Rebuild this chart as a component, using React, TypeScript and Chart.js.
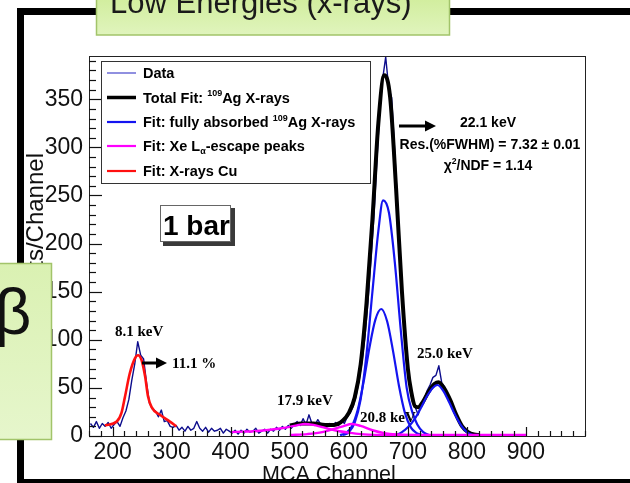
import React, { useEffect, useRef } from 'react';
import { Chart, registerables } from 'chart.js';

Chart.register(...registerables);

// ---------- data ----------
// Data histogram: 5-channel bins starting at channel 160
const DATA_START = 160;
const DATA_BIN = 5;
const dataCounts = [
  13, 9, 15, 8, 13, 10, 14, 8, 12, 15, 10, 19, 26, 38, 58, 75, 98, 84, 80, 55,
  34, 28, 26, 20, 27, 15, 16, 10, 9, 11, 6, 9, 5, 10, 6, 8, 15, 8, 5, 9,
  4, 8, 5, 6, 8, 3, 7, 5, 3, 6, 2, 6, 3, 7, 4, 5, 8, 3, 5, 7,
  3, 7, 5, 9, 6, 10, 7, 11, 8, 12, 15, 11, 18, 12, 22, 13, 11, 17, 12, 10,
  9, 13, 10, 14, 11, 16, 13, 20, 24, 31, 42, 58, 78, 104, 140, 182, 228, 285, 340, 372,
  394, 362, 352, 298, 240, 178, 128, 88, 58, 36, 30, 22, 34, 38, 47, 53, 61, 63, 73, 55,
  51, 43, 35, 27, 21, 14, 9, 6, 4, 3, 2, 1, 1, 0, 1,
];

const totalFitChannels = [500, 520, 540, 560, 575, 590, 600, 610, 620, 630, 640, 650, 660, 670, 680, 690, 700, 706, 712, 718, 725, 735, 745, 752, 762, 772, 782, 792, 802, 812, 822];
const totalFitCounts = [11, 13, 13, 11.5, 11.5, 16, 24, 40, 74, 138, 225, 325, 375, 352, 258, 150, 70, 45, 31, 30, 35, 46, 54, 56, 49, 37, 22, 10, 4, 1.5, 1];

const agKa1Channels = [590, 600, 610, 620, 630, 640, 650, 658, 668, 678, 688, 698, 708, 716, 726, 736, 746];
const agKa1Counts = [1, 4, 14, 38, 85, 150, 213, 245, 232, 180, 110, 50, 24, 12, 4, 1, 0];

const agKa2Channels = [585, 595, 605, 615, 625, 635, 645, 655, 665, 675, 685, 695, 705, 715, 725, 735];
const agKa2Counts = [1, 3, 10, 27, 56, 92, 121, 132, 119, 88, 52, 24, 9, 3, 1, 0];

const agKbChannels = [680, 690, 700, 712, 722, 732, 742, 750, 760, 770, 780, 790, 800, 810, 820];
const agKbCounts = [1, 4, 9, 18, 29, 41, 50, 53, 47, 35, 22, 11, 4, 1, 0];

const escape1Channels = [400, 420, 440, 460, 480, 500, 515, 525, 540, 560, 580, 600, 620, 650, 700, 800, 900];
const escape1Counts = [4, 4.5, 5, 6, 7.5, 9.5, 11.5, 12.5, 11.5, 8.5, 5.5, 3.5, 2, 1.2, 1, 1, 1];

const escape2Channels = [500, 530, 555, 575, 590, 605, 620, 640, 660, 680, 700, 750];
const escape2Counts = [1, 2, 4, 7.5, 10, 12.5, 10.5, 6, 3, 1.5, 1, 0.5];

const cuChannels = [187, 207, 215, 221, 229, 238, 243, 249, 255, 260, 266, 280, 297, 308];
const cuCounts = [11, 15, 24, 41, 65, 81, 84, 79, 62, 41, 30, 22, 15, 10];

const xTickValues = [200, 300, 400, 500, 600, 700, 800, 900];
const yTickValues = [0, 50, 100, 150, 200, 250, 300, 350];

const legendEntries = [
  { color: '#6b6bd6', width: 1.5, segs: [['Data', 'n']] },
  { color: '#000000', width: 3.5, segs: [['Total Fit: ', 'n'], ['109', 'sup'], ['Ag X-rays', 'n']] },
  { color: '#1414f0', width: 2.2, segs: [['Fit: fully absorbed ', 'n'], ['109', 'sup'], ['Ag X-rays', 'n']] },
  { color: '#ff00ff', width: 2.2, segs: [['Fit: Xe L', 'n'], ['\u03b1', 'sub'], ['-escape peaks', 'n']] },
  { color: '#ff1010', width: 2.2, segs: [['Fit: X-rays Cu', 'n']] },
];

const SANS = "'Liberation Sans', Arial, Helvetica, sans-serif";
const SERIF = "'Liberation Serif', 'Times New Roman', serif";

const pairs = (xs: number[], ys: number[]) => xs.map((x, i) => ({ x, y: ys[i] }));

function drawRich(
  ctx: CanvasRenderingContext2D,
  segs: string[][],
  x: number,
  y: number,
  size: number,
  family: string,
  weight: string,
  align: 'left' | 'center'
) {
  let total = 0;
  const parts = segs.map(([t, mode]) => {
    const fs = mode === 'n' ? size : size * 0.62;
    ctx.font = `${weight} ${fs}px ${family}`;
    const w = ctx.measureText(t).width;
    total += w;
    return { t, mode, fs, w };
  });
  let cx = align === 'center' ? x - total / 2 : x;
  ctx.textAlign = 'left';
  ctx.textBaseline = 'alphabetic';
  for (const p of parts) {
    ctx.font = `${weight} ${p.fs}px ${family}`;
    const dy = p.mode === 'sup' ? -size * 0.42 : p.mode === 'sub' ? size * 0.22 : 0;
    ctx.fillText(p.t, cx, y + dy);
    cx += p.w;
  }
}

function arrow(ctx: CanvasRenderingContext2D, x1: number, y: number, x2: number) {
  ctx.save();
  ctx.strokeStyle = '#000';
  ctx.fillStyle = '#000';
  ctx.lineWidth = 3;
  ctx.beginPath();
  ctx.moveTo(x1, y);
  ctx.lineTo(x2 - 8, y);
  ctx.stroke();
  ctx.beginPath();
  ctx.moveTo(x2, y);
  ctx.lineTo(x2 - 11, y - 5.5);
  ctx.lineTo(x2 - 11, y + 5.5);
  ctx.closePath();
  ctx.fill();
  ctx.restore();
}

const rootPlugin = {
  id: 'rootStyle',
  beforeDraw(chart: any) {
    const ctx = chart.ctx as CanvasRenderingContext2D;
    ctx.save();
    ctx.fillStyle = '#ffffff';
    ctx.fillRect(0, 0, chart.width, chart.height);
    ctx.restore();
  },
  afterDatasetsDraw(chart: any) {
    const ctx = chart.ctx as CanvasRenderingContext2D;
    const { left, right, top, bottom } = chart.chartArea;
    const xs = chart.scales.x;
    const ys = chart.scales.y;
    ctx.save();
    ctx.strokeStyle = '#222';
    ctx.lineWidth = 1;
    ctx.strokeRect(Math.round(left) + 0.5, Math.round(top) + 0.5, Math.round(right - left), Math.round(bottom - top));
    ctx.strokeStyle = '#111';
    ctx.lineWidth = 1.2;
    for (let v = 0; v <= ys.max; v += 10) {
      const py = Math.round(ys.getPixelForValue(v)) + 0.5;
      const len = yTickValues.includes(v) ? 13 : 7;
      ctx.beginPath();
      ctx.moveTo(left, py);
      ctx.lineTo(left + len, py);
      ctx.stroke();
    }
    for (let v = 160; v <= xs.max; v += 20) {
      const px = Math.round(xs.getPixelForValue(v)) + 0.5;
      const len = xTickValues.includes(v) ? 9 : 5;
      ctx.beginPath();
      ctx.moveTo(px, bottom);
      ctx.lineTo(px, bottom - len);
      ctx.stroke();
    }
    ctx.restore();
  },
  afterDraw(chart: any) {
    const ctx = chart.ctx as CanvasRenderingContext2D;
    ctx.save();
    ctx.fillStyle = '#000';

    // legend
    ctx.fillStyle = '#fff';
    ctx.fillRect(101, 61, 270, 122);
    ctx.strokeStyle = '#333';
    ctx.lineWidth = 1;
    ctx.strokeRect(101.5, 61.5, 269, 122);
    const rowY = [73, 97.5, 122, 146, 171];
    legendEntries.forEach((e, i) => {
      ctx.strokeStyle = e.color;
      ctx.lineWidth = e.width;
      ctx.beginPath();
      ctx.moveTo(107, rowY[i]);
      ctx.lineTo(136, rowY[i]);
      ctx.stroke();
      ctx.fillStyle = '#000';
      drawRich(ctx, e.segs, 143, rowY[i] + 5, 14.5, SANS, 'bold', 'left');
    });

    // "1 bar" box
    ctx.fillStyle = '#3a3a3a';
    ctx.fillRect(163, 208, 72, 38);
    ctx.fillStyle = '#fff';
    ctx.fillRect(160, 205, 71, 37);
    ctx.strokeStyle = '#666';
    ctx.lineWidth = 1;
    ctx.strokeRect(160.5, 205.5, 70, 36);
    ctx.fillStyle = '#000';
    ctx.font = `bold 28px ${SANS}`;
    ctx.textAlign = 'left';
    ctx.textBaseline = 'alphabetic';
    ctx.fillText('1 bar', 163, 235);

    // peak annotations
    ctx.font = `bold 15px ${SERIF}`;
    ctx.fillText('8.1 keV', 115, 336);
    ctx.fillText('11.1 %', 172, 368);
    ctx.fillText('17.9 keV', 277, 405);
    ctx.fillText('20.8 keV', 360, 422);
    ctx.fillText('25.0 keV', 417, 358);
    arrow(ctx, 142, 363, 167);
    arrow(ctx, 399, 126, 436);

    drawRich(ctx, [['22.1 keV', 'n']], 488, 127, 14, SANS, 'bold', 'center');
    drawRich(ctx, [['Res.(%FWHM) = 7.32 \u00b1 0.01', 'n']], 490, 149, 14, SANS, 'bold', 'center');
    drawRich(ctx, [['\u03c7', 'n'], ['2', 'sup'], ['/NDF = 1.14', 'n']], 488, 170, 14, SANS, 'bold', 'center');

    // axis titles
    ctx.fillStyle = '#111';
    ctx.font = `21.5px ${SANS}`;
    ctx.textAlign = 'left';
    ctx.fillText('MCA Channel', 262, 481);
    ctx.save();
    ctx.translate(43, 153);
    ctx.rotate(-Math.PI / 2);
    ctx.font = `24px ${SANS}`;
    ctx.textAlign = 'right';
    ctx.fillText('Counts/Channel', 0, 0);
    ctx.restore();

    // slide frame
    ctx.fillStyle = '#000';
    ctx.fillRect(17, 8, 80, 7);
    ctx.fillRect(449, 8, 181, 7);
    ctx.fillRect(17, 8, 7, 475);
    ctx.fillRect(17, 479, 613, 4);

    // title box
    const g1 = ctx.createLinearGradient(0, 0, 0, 35);
    g1.addColorStop(0, '#d2ee9f');
    g1.addColorStop(1, '#e0f4bd');
    ctx.fillStyle = g1;
    ctx.fillRect(96, -2, 354, 37);
    ctx.strokeStyle = '#a2c46a';
    ctx.lineWidth = 1.5;
    ctx.strokeRect(96.5, -2, 353, 37);
    ctx.fillStyle = '#1a1a1a';
    ctx.font = `31px ${SANS}`;
    ctx.textAlign = 'left';
    ctx.fillText('Low Energies (x-rays)', 110, 13);

    // beta box
    const g2 = ctx.createLinearGradient(0, 263, 0, 440);
    g2.addColorStop(0, '#daf1b2');
    g2.addColorStop(1, '#e6f6cc');
    ctx.fillStyle = g2;
    ctx.fillRect(-2, 263, 54, 177);
    ctx.strokeStyle = '#a2c46a';
    ctx.lineWidth = 1.5;
    ctx.strokeRect(-2, 263.5, 53.5, 176);
    ctx.fillStyle = '#111';
    ctx.font = `64px ${SANS}`;
    ctx.textAlign = 'center';
    ctx.fillText('\u03b2', 13, 334);

    ctx.restore();
  },
};

export default function App() {
  const canvasRef = useRef<HTMLCanvasElement | null>(null);

  useEffect(() => {
    const canvas = canvasRef.current;
    if (!canvas) return;
    const line = (label: string, pts: any[], color: string, width: number, order: number, smooth: boolean) => ({
      label,
      data: pts,
      showLine: true,
      borderColor: color,
      backgroundColor: color,
      borderWidth: width,
      pointRadius: 0,
      fill: false,
      order,
      tension: smooth ? 0.4 : 0,
      cubicInterpolationMode: smooth ? 'monotone' : 'default',
      borderJoinStyle: 'round',
    });
    const dataPts = dataCounts.map((c, i) => ({ x: DATA_START + i * DATA_BIN + DATA_BIN / 2, y: c }));
    const chart = new Chart(canvas, {
      type: 'scatter',
      data: {
        datasets: [
          line('X-rays Cu', pairs(cuChannels, cuCounts), '#ff1010', 2.6, 1, true),
          line('Xe escape 1', pairs(escape1Channels, escape1Counts), '#ff00ff', 2.4, 2, true),
          line('Xe escape 2', pairs(escape2Channels, escape2Counts), '#ff00ff', 2.4, 2, true),
          line('Ag Ka1', pairs(agKa1Channels, agKa1Counts), '#1414f0', 2.2, 3, true),
          line('Ag Ka2', pairs(agKa2Channels, agKa2Counts), '#1414f0', 2.2, 3, true),
          line('Ag Kb', pairs(agKbChannels, agKbCounts), '#1414f0', 2.2, 3, true),
          line('Total Fit', pairs(totalFitChannels, totalFitCounts), '#000000', 4, 5, true),
          line('Data', dataPts, '#0c0c8c', 1.4, 10, false),
        ] as any,
      },
      options: {
        animation: false,
        responsive: false,
        devicePixelRatio: 1,
        layout: { padding: { left: 0, top: 56, right: 45, bottom: 0 } },
        plugins: {
          legend: { display: false },
          tooltip: { enabled: false },
          title: { display: false },
        },
        scales: {
          x: {
            type: 'linear',
            min: 160,
            max: 1000,
            grid: { display: false, drawTicks: false },
            border: { display: false },
            ticks: {
              stepSize: 100,
              includeBounds: false,
              autoSkip: false,
              maxRotation: 0,
              padding: 3,
              color: '#111',
              font: { family: SANS, size: 23 },
              callback: (v: any) => (xTickValues.includes(Number(v)) ? String(v) : ''),
            },
            afterFit: (s: any) => {
              s.height = 47;
            },
          },
          y: {
            type: 'linear',
            min: 0,
            max: 395,
            grid: { display: false, drawTicks: false },
            border: { display: false },
            ticks: {
              stepSize: 50,
              includeBounds: false,
              autoSkip: false,
              padding: 6,
              color: '#111',
              font: { family: SANS, size: 23 },
              callback: (v: any) => (yTickValues.includes(Number(v)) ? String(v) : ''),
            },
            afterFit: (s: any) => {
              s.width = 89;
            },
          },
        },
      } as any,
      plugins: [rootPlugin],
    });
    return () => chart.destroy();
  }, []);

  return (
    <div style={{ position: 'absolute', left: 0, top: 0, width: 630, height: 483, background: '#fff' }}>
      <canvas ref={canvasRef} width={630} height={483} style={{ display: 'block', width: 630, height: 483 }} />
    </div>
  );
}
